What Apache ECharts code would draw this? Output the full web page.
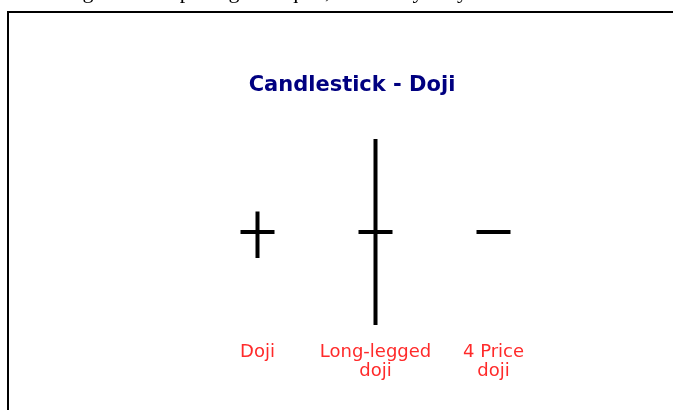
<!DOCTYPE html>
<html lang="en">
<head>
<meta charset="utf-8">
<title>Candlestick - Doji</title>
<script src="https://cdn.jsdelivr.net/npm/echarts@6/dist/echarts.min.js"></script>
<style>
  html, body { margin: 0; padding: 0; background: #fff; }
  #chart { width: 673px; height: 410px; }
</style>
</head>
<body>
<div id="chart"></div>
<script>
// candle names shown under each shape
var categories = ['Doji', 'Long-legged\ndoji', '4 Price\ndoji'];
// [open, close, low, high]
var dojiValues = [
  [50, 50, 36, 61],
  [50, 50, 0, 100],
  [50, 50, 50, 50]
];

var myChart = echarts.init(document.getElementById('chart'), null, { renderer: 'canvas' });

var option = {
  backgroundColor: '#fff',
  animation: false,
  title: {
    text: 'Candlestick - Doji',
    left: 347,
    textAlign: 'center',
    top: 70,
    textStyle: {
      color: '#000080',
      fontFamily: 'DejaVu Sans',
      fontWeight: 'bold',
      fontSize: 21
    }
  },
  grid: {
    left: 198.5,
    right: 120.5,
    top: 139,
    bottom: 85
  },
  xAxis: {
    type: 'category',
    data: categories,
    boundaryGap: true,
    axisLine: { show: false },
    axisTick: { show: false },
    splitLine: { show: false },
    axisLabel: {
      interval: 0,
      hideOverlap: false,
      margin: 18,
      color: '#ff2a2a',
      fontFamily: 'DejaVu Sans',
      fontSize: 18,
      lineHeight: 19
    }
  },
  yAxis: {
    type: 'value',
    min: 0,
    max: 100,
    show: false
  },
  series: [{
    type: 'candlestick',
    data: dojiValues,
    barWidth: 35,
    itemStyle: {
      color: '#000',
      color0: '#000',
      borderColor: '#000',
      borderColor0: '#000',
      borderColorDoji: '#000',
      borderWidth: 4
    }
  }],
  graphic: [
    {
      type: 'rect',
      shape: { x: 8, y: 12, width: 700, height: 430 },
      style: { fill: 'none', stroke: '#000', lineWidth: 2 }
    },
    {
      type: 'text',
      x: 30,
      y: -19,
      style: {
        text: 'closing and the opening are equal, there may only be',
        font: '22px "Liberation Serif"',
        fill: '#000'
      }
    }
  ]
};
myChart.setOption(option);
</script>
</body>
</html>
